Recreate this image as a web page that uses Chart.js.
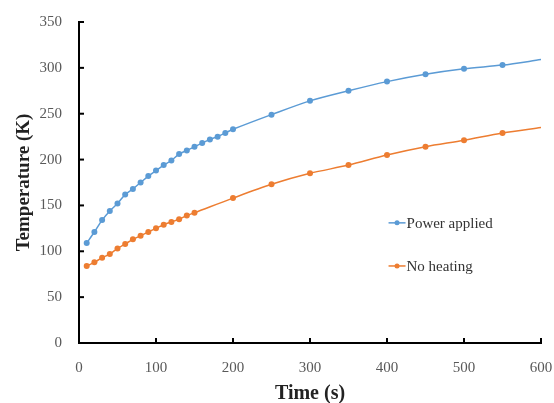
<!DOCTYPE html>
<html>
<head>
<meta charset="utf-8">
<script src="https://cdn.jsdelivr.net/npm/chart.js@4/dist/chart.umd.min.js"></script>
<style>
    html, body { margin: 0; padding: 0; background: #fff; }
    #wrap { width: 554px; height: 403px; }
</style>
</head>
<body>
<div id="wrap"><canvas id="tempChart"></canvas></div>
<script>
// heating run: sampled every 10 s early on, then every 50 s
const powerTimes = [10, 20, 30, 40, 50, 60, 70, 80, 90, 100, 110, 120, 130, 140, 150, 160, 170, 180, 190, 200,
    250, 300, 350, 400, 450, 500, 550, 600];
const powerTemps = [109, 121, 134, 144, 152, 162, 168, 175, 182, 188, 194, 199, 206, 210, 214, 218, 222, 225, 229, 233,
    249, 264, 275, 285, 293, 299, 303, 309];

const noHeatTimes = [10, 20, 30, 40, 50, 60, 70, 80, 90, 100, 110, 120, 130, 140, 150,
    200, 250, 300, 350, 400, 450, 500, 550, 600];
const noHeatTemps = [84, 88, 93, 97, 103, 108, 113, 117, 121, 125, 129, 132, 135, 139, 142,
    158, 173, 185, 194, 205, 214, 221, 229, 235];

const seriesNames = ['Power applied', 'No heating'];
const timeTicks = [0, 100, 200, 300, 400, 500, 600];
const tempTicks = [0, 50, 100, 150, 200, 250, 300, 350];

const serif = "'Liberation Serif', 'DejaVu Serif', serif";

const toPoints = (xs, ys) => xs.map((x, i) => ({ x: x, y: ys[i] }));
// last sample only continues the curve, no marker there
const markerSizes = (xs) => xs.map((x, i) => (i === xs.length - 1 ? 0 : 3));

// fixed axis boxes; label overhang is handled by the layout padding
const fixBox = (size) => (s) => {
    if (s.isHorizontal()) s.height = size; else s.width = size;
    s.paddingLeft = 0;
    s.paddingRight = 0;
    s.paddingTop = 0;
    s.paddingBottom = 0;
};

// Excel-style inward tick marks on both axes
const insideTicks = {
    id: 'insideTicks',
    afterDraw(chart) {
        const { ctx, chartArea, scales } = chart;
        ctx.save();
        ctx.strokeStyle = '#000';
        ctx.lineWidth = 2;
        timeTicks.forEach(v => {
            if (v === 0) return;
            const x = scales.x.getPixelForValue(v);
            ctx.beginPath();
            ctx.moveTo(x, chartArea.bottom);
            ctx.lineTo(x, chartArea.bottom - 5);
            ctx.stroke();
        });
        tempTicks.forEach(v => {
            if (v === 0) return;
            const y = scales.y.getPixelForValue(v);
            ctx.beginPath();
            ctx.moveTo(chartArea.left, y);
            ctx.lineTo(chartArea.left + 5, y);
            ctx.stroke();
        });
        ctx.restore();
    }
};

// legend sits inside the plot, right of centre
const innerLegend = {
    id: 'innerLegend',
    afterDraw(chart) {
        const { ctx, scales } = chart;
        const x0 = scales.x.getPixelForValue(402);
        const rows = [scales.y.getPixelForValue(131), scales.y.getPixelForValue(84)];
        ctx.save();
        chart.data.datasets.forEach((ds, i) => {
            const y = rows[i];
            ctx.strokeStyle = ds.borderColor;
            ctx.lineWidth = 1.5;
            ctx.beginPath();
            ctx.moveTo(x0, y);
            ctx.lineTo(x0 + 17, y);
            ctx.stroke();
            ctx.fillStyle = ds.pointBackgroundColor;
            ctx.beginPath();
            ctx.arc(x0 + 8.5, y, 2.5, 0, Math.PI * 2);
            ctx.fill();
            ctx.fillStyle = '#333';
            ctx.font = '15px ' + serif;
            ctx.textBaseline = 'middle';
            ctx.fillText(ds.label, x0 + 18, y + 1);
        });
        ctx.restore();
    }
};

new Chart(document.getElementById('tempChart'), {
    type: 'line',
    data: {
        datasets: [{
            label: seriesNames[0],
            data: toPoints(powerTimes, powerTemps),
            borderColor: '#5B9BD5',
            backgroundColor: '#5B9BD5',
            pointBackgroundColor: '#5B9BD5',
            pointBorderWidth: 0,
            pointRadius: markerSizes(powerTimes),
            borderWidth: 1.5,
            tension: 0.3
        }, {
            label: seriesNames[1],
            data: toPoints(noHeatTimes, noHeatTemps),
            borderColor: '#ED7D31',
            backgroundColor: '#ED7D31',
            pointBackgroundColor: '#ED7D31',
            pointBorderWidth: 0,
            pointRadius: markerSizes(noHeatTimes),
            borderWidth: 1.5,
            tension: 0.3
        }]
    },
    options: {
        responsive: true,
        maintainAspectRatio: false,
        animation: false,
        layout: { padding: { top: 22, right: 13, left: 0, bottom: 0 } },
        plugins: {
            legend: { display: false },
            tooltip: { enabled: false }
        },
        scales: {
            x: {
                type: 'linear',
                min: 0,
                max: 600,
                afterFit: fixBox(60),
                afterBuildTicks: (s) => { s.ticks = timeTicks.map(v => ({ value: v })); },
                grid: { display: false, drawTicks: false },
                border: { display: true, color: '#000', width: 2 },
                ticks: {
                    padding: 16,
                    color: '#595959',
                    font: { family: serif, size: 15 },
                    maxRotation: 0
                },
                title: {
                    display: true,
                    text: 'Time (s)',
                    color: '#222',
                    font: { family: serif, size: 20, weight: 'bold' },
                    padding: { top: 0, bottom: -3 }
                }
            },
            y: {
                type: 'linear',
                min: 0,
                max: 350,
                afterFit: fixBox(79),
                afterBuildTicks: (s) => { s.ticks = tempTicks.map(v => ({ value: v })); },
                grid: { display: false, drawTicks: false },
                border: { display: true, color: '#000', width: 2 },
                ticks: {
                    padding: 17,
                    color: '#595959',
                    font: { family: serif, size: 15 }
                },
                title: {
                    display: true,
                    text: 'Temperature (K)',
                    color: '#222',
                    font: { family: serif, size: 19, weight: 'bold' },
                    padding: { top: 13, bottom: 0 }
                }
            }
        }
    },
    plugins: [insideTicks, innerLegend]
});
</script>
</body>
</html>
